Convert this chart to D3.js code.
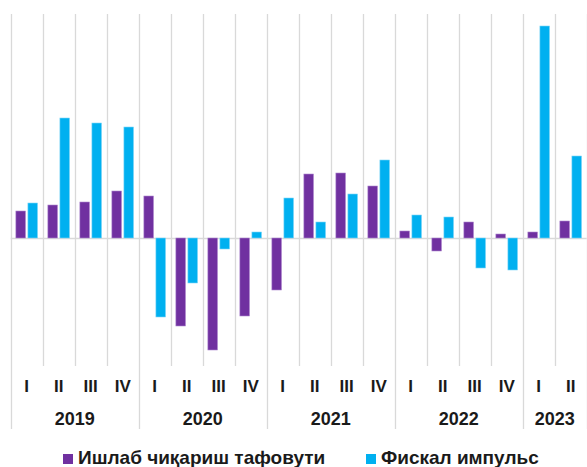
<!DOCTYPE html>
<html>
<head>
<meta charset="utf-8">
<script src="https://cdn.jsdelivr.net/npm/d3@7"></script>
<style>
  body { margin: 0; background: #fff; }
  text { font-family: "Liberation Sans", Arial, sans-serif; font-weight: bold; fill: #1a1a1a; }
</style>
</head>
<body>
<div id="chart"></div>
<script>
// quarters and years on the axis
var quarters = ["I", "II", "III", "IV", "I", "II", "III", "IV", "I", "II", "III", "IV", "I", "II", "III", "IV", "I", "II"];
var years = ["2019", "2020", "2021", "2022", "2023"];
var yearSpans = [4, 4, 4, 4, 2];

var seriesNames = ["Ишлаб чиқариш тафовути", "Фискал импульс"];
var seriesColors = ["#7030A0", "#00B0F0"];

// values (no axis shown, relative units)
var outputGap = [2.7, 3.3, 3.6, 4.7, 4.2, -8.8, -11.2, -7.8, -5.2, 6.4, 6.5, 5.2, 0.7, -1.3, 1.6, 0.4, 0.6, 1.7];
var fiscalImpulse = [3.5, 12.0, 11.5, 11.1, -7.9, -4.5, -1.1, 0.6, 4.0, 1.6, 4.4, 7.8, 2.3, 2.1, -3.0, -3.2, 21.2, 8.2];

var W = 587, H = 467;
var svg = d3.select("#chart").append("svg").attr("width", W).attr("height", H);

var idx = d3.range(quarters.length);
var x0 = d3.scaleBand().domain(idx).range([10.7, 586.7]);
var x1 = d3.scaleBand().domain([0, 1]).range([0, x0.bandwidth()])
  .paddingInner(0.2).paddingOuter(0.43);
var y = d3.scaleLinear().domain([-12.8, 22.4]).range([366, 14]);

var grid = "#d9d9d9";

// quarter separators, longer at year boundaries
var yearStarts = [0];
yearSpans.forEach(function (s, i) { yearStarts.push(yearStarts[i] + s); });
var lines = d3.range(quarters.length + 1);
svg.append("g").selectAll("line").data(lines).enter().append("line")
  .attr("x1", function (d) { return Math.round(10.7 + d * x0.step()) + 0.5; })
  .attr("x2", function (d) { return Math.round(10.7 + d * x0.step()) + 0.5; })
  .attr("y1", y(22.4))
  .attr("y2", function (d) { return yearStarts.indexOf(d) >= 0 ? 429 : 366; })
  .attr("stroke", grid).attr("stroke-width", 1.3);

// zero line
svg.append("line")
  .attr("x1", 10.7).attr("x2", 586.7)
  .attr("y1", Math.round(y(0)) + 0.5).attr("y2", Math.round(y(0)) + 0.5)
  .attr("stroke", grid).attr("stroke-width", 1.5);

// bars
var rows = idx.map(function (i) { return [outputGap[i], fiscalImpulse[i]]; });
var groups = svg.append("g").selectAll("g").data(rows).enter().append("g")
  .attr("transform", function (d, i) { return "translate(" + x0(i) + ",0)"; });
groups.selectAll("rect").data(function (d) { return d; }).enter().append("rect")
  .attr("x", function (d, j) { return x1(j); })
  .attr("width", x1.bandwidth())
  .attr("y", function (d) { return y(Math.max(0, d)); })
  .attr("height", function (d) { return Math.abs(y(d) - y(0)); })
  .attr("fill", function (d, j) { return seriesColors[j]; })
  .attr("stroke", function (d, j) { return j ? "#7fd6f7" : "#b08ad0"; })
  .attr("stroke-width", 0.6);

// quarter labels
svg.append("g").selectAll("text").data(quarters).enter().append("text")
  .attr("x", function (d, i) { return x0(i) + x0.bandwidth() / 2; })
  .attr("y", 392)
  .attr("text-anchor", "middle")
  .style("font-size", "17px")
  .text(function (d) { return d; });

// year labels
svg.append("g").selectAll("text").data(years).enter().append("text")
  .attr("x", function (d, i) {
    var a = x0(yearStarts[i]), b = x0(yearStarts[i] + yearSpans[i] - 1) + x0.bandwidth();
    return (a + b) / 2;
  })
  .attr("y", 425)
  .attr("text-anchor", "middle")
  .style("font-size", "18px")
  .text(function (d) { return d; });

// legend
var legendX = [63, 366];
var legend = svg.append("g").selectAll("g").data(seriesNames).enter().append("g")
  .attr("transform", function (d, i) { return "translate(" + legendX[i] + ",0)"; });
legend.append("rect")
  .attr("x", 0).attr("y", 454).attr("width", 10).attr("height", 10)
  .attr("fill", function (d, i) { return seriesColors[i]; });
legend.append("text")
  .attr("x", 15).attr("y", 464)
  .style("font-size", "19px")
  .text(function (d) { return d; });
</script>
</body>
</html>
